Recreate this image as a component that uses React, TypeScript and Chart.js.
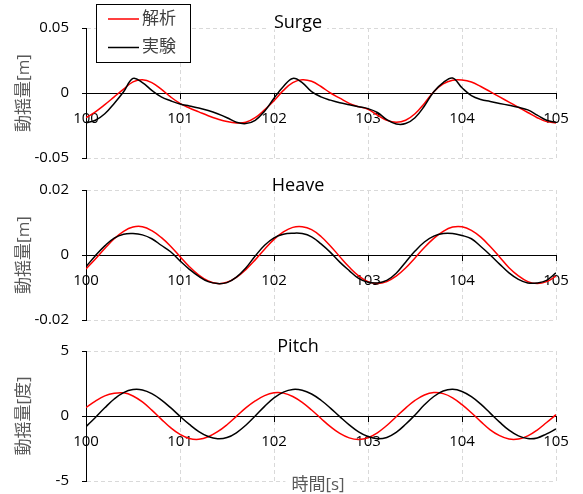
import React, { useEffect, useRef } from 'react';
import { Chart, registerables } from 'chart.js';

Chart.register(...registerables);

const TIME = [
  100.0, 100.1, 100.2, 100.3, 100.4, 100.5, 100.6, 100.7, 100.8, 100.9,
  101.0, 101.1, 101.2, 101.3, 101.4, 101.5, 101.6, 101.7, 101.8, 101.9,
  102.0, 102.1, 102.2, 102.3, 102.4, 102.5, 102.6, 102.7, 102.8, 102.9,
  103.0, 103.1, 103.2, 103.3, 103.4, 103.5, 103.6, 103.7, 103.8, 103.9,
  104.0, 104.1, 104.2, 104.3, 104.4, 104.5, 104.6, 104.7, 104.8, 104.9,
  105.0,
];

const SURGE_ANALYSIS = [
  -0.019, -0.0145, -0.009, -0.003, 0.003, 0.0085, 0.0102, 0.008, 0.003, -0.003,
  -0.008, -0.0115, -0.0145, -0.0175, -0.02, -0.022, -0.023, -0.0225, -0.019, -0.013,
  -0.006, 0.002, 0.008, 0.0102, 0.009, 0.005, 0.0, -0.004, -0.008, -0.0105,
  -0.0125, -0.017, -0.021, -0.0225, -0.021, -0.016, -0.008, 0.001, 0.007, 0.0098,
  0.01, 0.0085, 0.005, 0.001, -0.003, -0.007, -0.011, -0.015, -0.019, -0.022,
  -0.023,
];
const SURGE_EXPERIMENT = [
  -0.023, -0.021, -0.016, -0.008, 0.001, 0.0112, 0.008, 0.002, -0.003, -0.006,
  -0.0085, -0.01, -0.0115, -0.0135, -0.016, -0.019, -0.0225, -0.0235, -0.021, -0.014,
  -0.004, 0.005, 0.0112, 0.008, 0.001, -0.003, -0.0055, -0.0075, -0.009, -0.0105,
  -0.012, -0.015, -0.0205, -0.0238, -0.0235, -0.019, -0.01, 0.001, 0.008, 0.0115,
  0.004, -0.002, -0.005, -0.0065, -0.008, -0.0095, -0.011, -0.013, -0.017, -0.021,
  -0.0225,
];
const HEAVE_ANALYSIS = [
  -0.0043, -0.0012, 0.002, 0.005, 0.0073, 0.0086, 0.0087, 0.0075, 0.0054, 0.0027,
  -0.0005, -0.0036, -0.0062, -0.008, -0.0088, -0.0084, -0.0069, -0.0045, -0.0015, 0.0018,
  0.0048, 0.0071, 0.0085, 0.0087, 0.0078, 0.0057, 0.0028, -0.0005, -0.0037, -0.0064,
  -0.0082, -0.0088, -0.0082, -0.0065, -0.004, -0.0009, 0.0023, 0.0051, 0.0073, 0.0086,
  0.0087, 0.0076, 0.0055, 0.0026, -0.0006, -0.0039, -0.0064, -0.0082, -0.0088, -0.0082,
  -0.0065,
];
const HEAVE_EXPERIMENT = [
  -0.0036, -0.0002, 0.0028, 0.0052, 0.0064, 0.0066, 0.0062, 0.005, 0.003, 0.001,
  -0.0018, -0.0044, -0.0066, -0.0082, -0.0088, -0.0085, -0.0068, -0.004, -0.0003, 0.003,
  0.0053, 0.0064, 0.0067, 0.0066, 0.0056, 0.0034, 0.0008, -0.0022, -0.0048, -0.0072,
  -0.0084, -0.0086, -0.0078, -0.0056, -0.0022, 0.0012, 0.004, 0.0058, 0.0066, 0.0066,
  0.006, 0.005, 0.0026, 0.0, -0.0028, -0.0055, -0.0075, -0.0086, -0.0086, -0.0078,
  -0.0055,
];
const PITCH_ANALYSIS = [
  0.65, 1.15, 1.55, 1.75, 1.78, 1.54, 1.08, 0.45, -0.24, -0.9,
  -1.42, -1.73, -1.79, -1.6, -1.21, -0.67, -0.03, 0.62, 1.16, 1.57,
  1.78, 1.76, 1.5, 1.05, 0.46, -0.19, -0.82, -1.34, -1.68, -1.8,
  -1.67, -1.29, -0.73, -0.06, 0.61, 1.2, 1.62, 1.8, 1.72, 1.4,
  0.87, 0.25, -0.43, -1.06, -1.51, -1.77, -1.77, -1.53, -1.08, -0.5,
  0.1,
];
const PITCH_EXPERIMENT = [
  -0.82, -0.11, 0.63, 1.31, 1.8, 2.03, 2.0, 1.72, 1.24, 0.64,
  -0.02, -0.65, -1.2, -1.58, -1.75, -1.66, -1.29, -0.71, 0.0, 0.74,
  1.39, 1.84, 2.04, 1.98, 1.69, 1.21, 0.61, -0.05, -0.68, -1.22,
  -1.58, -1.75, -1.65, -1.26, -0.64, 0.08, 0.86, 1.5, 1.92, 2.05,
  1.89, 1.49, 0.91, 0.22, -0.47, -1.09, -1.53, -1.74, -1.69, -1.37,
  -1.0,
];

const X_MIN = 100;
const X_MAX = 105;
const X_STEP = 1;
const SERIES_NAMES = ['解析', '実験'];
const PANEL_TITLES = ['Surge', 'Heave', 'Pitch'];
const Y_TITLES = ['動揺量[m]', '動揺量[m]', '動揺量[度]'];
const Y_MINS = [-0.05, -0.02, -5];
const Y_MAXS = [0.05, 0.02, 5];
const Y_STEPS = [0.05, 0.02, 5];
const X_TITLE = '時間[s]';

const FONT = "'Open Sans', 'Noto Sans CJK JP', sans-serif";
const RED = '#ff0000';
const BLACK = '#000000';
const GRID = '#d9d9d9';

const overlayPlugin = {
  id: 'overlay',
  afterDraw(chart: any, _args: any, opts: any) {
    const ctx = chart.ctx as CanvasRenderingContext2D;
    const area = chart.chartArea;
    ctx.save();
    ctx.font = `18px ${FONT}`;
    ctx.textAlign = 'center';
    ctx.textBaseline = 'middle';
    const tw = ctx.measureText(opts.title).width;
    ctx.fillStyle = '#ffffff';
    ctx.fillRect(opts.titleX - tw / 2 - 5, opts.titleY - 11, tw + 10, area.top + 1.5 - (opts.titleY - 11));
    ctx.fillStyle = '#000000';
    ctx.fillText(opts.title, opts.titleX, opts.titleY);

    if (opts.legend) {
      const bx = 96.5, by = 4.5, bw = 94, bh = 58;
      ctx.fillStyle = '#ffffff';
      ctx.fillRect(bx, by, bw, bh);
      ctx.strokeStyle = '#000000';
      ctx.lineWidth = 1;
      ctx.strokeRect(bx, by, bw, bh);
      const rows = [
        { name: opts.names[0], color: RED, y: 19 },
        { name: opts.names[1], color: BLACK, y: 47.5 },
      ];
      ctx.font = `17px ${FONT}`;
      ctx.textAlign = 'left';
      for (const r of rows) {
        ctx.strokeStyle = r.color;
        ctx.lineWidth = 1.5;
        ctx.beginPath();
        ctx.moveTo(108, r.y);
        ctx.lineTo(139, r.y);
        ctx.stroke();
        ctx.fillStyle = '#404040';
        ctx.fillText(r.name, 142, r.y);
      }
    }

    if (opts.xTitle) {
      ctx.font = `17px ${FONT}`;
      ctx.textAlign = 'center';
      const w = ctx.measureText(opts.xTitle).width;
      ctx.fillStyle = '#ffffff';
      ctx.fillRect(opts.xTitleX - w / 2 - 6, area.bottom - 1.5, w + 12, 20);
      ctx.fillStyle = '#595959';
      ctx.fillText(opts.xTitle, opts.xTitleX, opts.xTitleY);
    }
    ctx.restore();
  },
};

type PanelProps = {
  idx: number;
  top: number;
  height: number;
  padTop: number;
  padBottom: number;
  analysis: number[];
  experiment: number[];
  titleY: number;
  legend?: boolean;
  xTitleY?: number;
};

function Panel(p: PanelProps) {
  const ref = useRef<HTMLCanvasElement>(null);
  useEffect(() => {
    const tickFont = { family: FONT, size: 15 };
    const chart = new Chart(ref.current as HTMLCanvasElement, {
      type: 'line',
      data: {
        datasets: [
          {
            label: SERIES_NAMES[1],
            data: TIME.map((t, i) => ({ x: t, y: p.experiment[i] })),
            borderColor: BLACK,
            borderWidth: 1.5,
            pointRadius: 0,
            tension: 0.4,
            fill: false,
          },
          {
            label: SERIES_NAMES[0],
            data: TIME.map((t, i) => ({ x: t, y: p.analysis[i] })),
            borderColor: RED,
            borderWidth: 1.5,
            pointRadius: 0,
            tension: 0.4,
            fill: false,
          },
        ],
      },
      options: {
        responsive: false,
        animation: false,
        events: [],
        layout: { padding: { left: 0, right: 27, top: p.padTop, bottom: p.padBottom } },
        plugins: {
          legend: { display: false },
          title: { display: false },
          tooltip: { enabled: false },
          overlay: {
            title: PANEL_TITLES[p.idx],
            titleX: 298,
            titleY: p.titleY,
            legend: !!p.legend,
            names: SERIES_NAMES,
            xTitle: p.xTitleY !== undefined ? X_TITLE : null,
            xTitleX: 318,
            xTitleY: p.xTitleY,
          },
        } as any,
        scales: {
          x: {
            type: 'linear',
            min: X_MIN,
            max: X_MAX,
            position: { y: 0 } as any,
            ticks: {
              stepSize: X_STEP,
              font: tickFont,
              color: '#000000',
              padding: 12,
              maxRotation: 0,
              autoSkip: false,
              callback: (v: any) => String(v),
            },
            grid: { color: GRID, lineWidth: 1, tickLength: 5, tickColor: BLACK, tickWidth: 1 },
            border: { display: true, color: BLACK, width: 1, dash: [4, 3] },
          },
          y: {
            type: 'linear',
            min: Y_MINS[p.idx],
            max: Y_MAXS[p.idx],
            position: 'left',
            afterFit: (s: any) => {
              s.width = 86;
            },
            ticks: {
              stepSize: Y_STEPS[p.idx],
              font: tickFont,
              color: '#000000',
              padding: 13,
              callback: (v: any) => String(Math.round(Number(v) * 1000) / 1000),
            },
            grid: { color: GRID, lineWidth: 1, tickLength: 4, tickColor: BLACK, tickWidth: 1 },
            border: { display: true, color: BLACK, width: 1, dash: [4, 3] },
            title: {
              display: true,
              text: Y_TITLES[p.idx],
              font: { family: FONT, size: 17 },
              color: '#595959',
              padding: { top: 14, bottom: 0 },
            },
          },
        },
      },
      plugins: [overlayPlugin],
    } as any);
    return () => chart.destroy();
  }, []);
  return (
    <canvas
      ref={ref}
      width={583}
      height={p.height}
      style={{ position: 'absolute', left: 0, top: p.top, width: 583, height: p.height }}
    />
  );
}

export default function App() {
  return (
    <div
      style={{
        position: 'fixed',
        left: 0,
        top: 0,
        width: 583,
        height: 494,
        overflow: 'hidden',
        background: '#ffffff',
      }}
    >
      <Panel idx={0} top={0} height={188} padTop={28} padBottom={30} analysis={SURGE_ANALYSIS} experiment={SURGE_EXPERIMENT} titleY={23} legend />
      <Panel idx={1} top={160} height={190} padTop={30} padBottom={30} analysis={HEAVE_ANALYSIS} experiment={HEAVE_EXPERIMENT} titleY={26} />
      <Panel idx={2} top={321} height={190} padTop={30} padBottom={30} analysis={PITCH_ANALYSIS} experiment={PITCH_EXPERIMENT} titleY={26} xTitleY={164} />
    </div>
  );
}
